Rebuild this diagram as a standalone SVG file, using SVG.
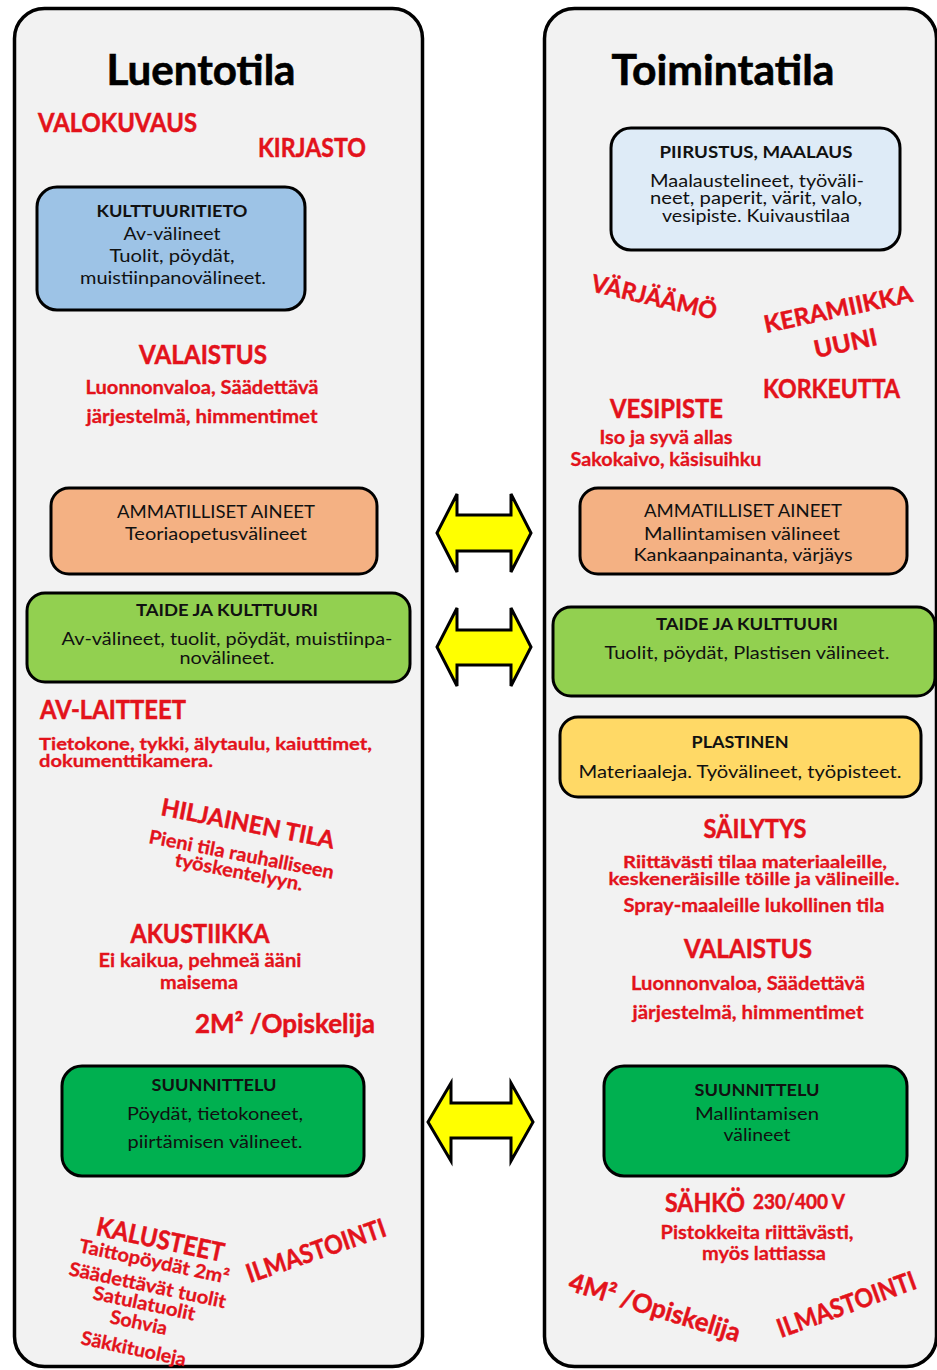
<svg xmlns="http://www.w3.org/2000/svg" width="937" height="1370" viewBox="0 0 937 1370">
<style>
text{font-family:Lato,"Liberation Sans",sans-serif}
.panel{fill:#f2f2f2;stroke:#000;stroke-width:3.5}
.box{stroke:#000;stroke-width:3}
.ttl{font-size:42px;font-weight:bold;fill:#000;text-anchor:middle;stroke:#000;stroke-width:0.6}
.rh{font-size:26px;font-weight:bold;fill:#e3121b;stroke:#e3121b;stroke-width:0.5}
.rs{font-size:19px;font-weight:bold;fill:#e3121b;stroke:#e3121b;stroke-width:0.3}
.tg{font-size:17.5px}
.m{text-anchor:middle}
.bt{font-size:18px;fill:#111}
.bt2{font-size:17px;fill:#111}
.bb{font-size:17.5px;font-weight:bold;fill:#111}
.arr{fill:#ffff00;stroke:#000;stroke-width:3;stroke-linejoin:miter}
</style>
<rect width="937" height="1370" fill="#fff"/>
<g id="panel-luentotila">
<rect class="panel" x="14.5" y="8.5" width="408" height="1358" rx="30"/>
<text class="ttl" x="201" y="85" textLength="189" lengthAdjust="spacingAndGlyphs">Luentotila</text>
</g>
<g id="panel-toimintatila">
<rect class="panel" x="544.5" y="8.5" width="392" height="1358" rx="30"/>
<text class="ttl" x="723" y="85" textLength="223" lengthAdjust="spacingAndGlyphs">Toimintatila</text>
</g>

<g id="connectors">
<polygon class="arr" points="437,533 457,494 457,515 511,515 511,494 531,533 511,572 511,551 457,551 457,572"/>
<polygon class="arr" points="437,647 457,608 457,630 511,630 511,608 531,647 511,686 511,665 457,665 457,686"/>
<polygon class="arr" points="428,1122 451,1083 451,1103 511,1103 511,1083 533,1122 511,1161 511,1138 451,1138 451,1161"/>
</g>

<!-- Left panel -->
<g id="valokuvaus"><text class="rh" x="38" y="132" textLength="159" lengthAdjust="spacingAndGlyphs">VALOKUVAUS</text></g>
<g id="kirjasto"><text class="rh" x="258" y="157" textLength="108" lengthAdjust="spacingAndGlyphs">KIRJASTO</text></g>
<g id="kulttuuritieto">
<rect class="box" x="37" y="187" width="268" height="123" rx="20" fill="#9dc3e6"/>
<text class="bb m" x="172" y="217" textLength="151" lengthAdjust="spacingAndGlyphs">KULTTUURITIETO</text>
<text class="bt m" x="172" y="240" textLength="97" lengthAdjust="spacingAndGlyphs">Av-välineet</text>
<text class="bt m" x="172" y="262" textLength="125" lengthAdjust="spacingAndGlyphs">Tuolit, pöydät,</text>
<text class="bt m" x="173" y="284" textLength="186" lengthAdjust="spacingAndGlyphs">muistiinpanovälineet.</text>
</g>
<g id="valaistus-l">
<text class="rh m" x="203" y="364" textLength="128" lengthAdjust="spacingAndGlyphs">VALAISTUS</text>
<text class="rs m" x="202" y="394" textLength="233" lengthAdjust="spacingAndGlyphs">Luonnonvaloa, Säädettävä</text>
<text class="rs m" x="202" y="423" textLength="231" lengthAdjust="spacingAndGlyphs">järjestelmä, himmentimet</text>
</g>
<g id="ammatilliset-l">
<rect class="box" x="51" y="488" width="326" height="86" rx="18" fill="#f4b183"/>
<text class="bt m" x="216" y="518" textLength="198" lengthAdjust="spacingAndGlyphs">AMMATILLISET AINEET</text>
<text class="bt m" x="216" y="540" textLength="182" lengthAdjust="spacingAndGlyphs">Teoriaopetusvälineet</text>
</g>
<g id="taide-l">
<rect class="box" x="27" y="593" width="383" height="89" rx="18" fill="#92d050"/>
<text class="bb m" x="227" y="616" textLength="182" lengthAdjust="spacingAndGlyphs">TAIDE JA KULTTUURI</text>
<text class="bt m" x="227" y="645" textLength="331" lengthAdjust="spacingAndGlyphs">Av-välineet, tuolit, pöydät, muistiinpa-</text>
<text class="bt m" x="227" y="664" textLength="95" lengthAdjust="spacingAndGlyphs">novälineet.</text>
</g>
<g id="av-laitteet">
<text class="rh" x="40" y="719" textLength="146" lengthAdjust="spacingAndGlyphs">AV-LAITTEET</text>
<text class="rs tg" x="39" y="750" textLength="333" lengthAdjust="spacingAndGlyphs">Tietokone, tykki, älytaulu, kaiuttimet,</text>
<text class="rs tg" x="39" y="767" textLength="174" lengthAdjust="spacingAndGlyphs">dokumenttikamera.</text>
</g>
<g id="hiljainen-tila">
<text class="rh" style="font-size:24px" transform="translate(160,815) rotate(11)" textLength="176" lengthAdjust="spacingAndGlyphs">HILJAINEN TILA</text>
<text class="rs" transform="translate(148,843) rotate(11)" textLength="188" lengthAdjust="spacingAndGlyphs">Pieni tila rauhalliseen</text>
<text class="rs" transform="translate(174,866) rotate(11)" textLength="130" lengthAdjust="spacingAndGlyphs">työskentelyyn.</text>
</g>
<g id="akustiikka">
<text class="rh m" x="200" y="943" textLength="139" lengthAdjust="spacingAndGlyphs">AKUSTIIKKA</text>
<text class="rs m" x="200" y="967" textLength="203" lengthAdjust="spacingAndGlyphs">Ei kaikua, pehmeä ääni</text>
<text class="rs m" x="199" y="989" textLength="78" lengthAdjust="spacingAndGlyphs">maisema</text>
</g>
<g id="tila-l"><text class="rh" x="195" y="1033" textLength="180" lengthAdjust="spacingAndGlyphs">2M² /Opiskelija</text></g>
<g id="suunnittelu-l">
<rect class="box" x="62" y="1066" width="302" height="110" rx="20" fill="#00b050"/>
<text class="bb m" x="214" y="1091" textLength="125" lengthAdjust="spacingAndGlyphs">SUUNNITTELU</text>
<text class="bt m" x="215" y="1120" textLength="176" lengthAdjust="spacingAndGlyphs">Pöydät, tietokoneet,</text>
<text class="bt m" x="215" y="1148" textLength="175" lengthAdjust="spacingAndGlyphs">piirtämisen välineet.</text>
</g>
<g id="kalusteet">
<text class="rh" transform="translate(95,1235) rotate(12)" textLength="130" lengthAdjust="spacingAndGlyphs">KALUSTEET</text>
<text class="rs" transform="translate(78,1252) rotate(12)" textLength="153" lengthAdjust="spacingAndGlyphs">Taittopöydät 2m²</text>
<text class="rs" transform="translate(68,1275) rotate(12)" textLength="160" lengthAdjust="spacingAndGlyphs">Säädettävät tuolit</text>
<text class="rs" transform="translate(92,1299) rotate(12)" textLength="104" lengthAdjust="spacingAndGlyphs">Satulatuolit</text>
<text class="rs" transform="translate(109,1323) rotate(12)" textLength="58" lengthAdjust="spacingAndGlyphs">Sohvia</text>
<text class="rs" transform="translate(80,1344) rotate(12)" textLength="107" lengthAdjust="spacingAndGlyphs">Säkkituoleja</text>
</g>
<g id="ilmastointi-l"><text class="rh" transform="translate(250,1283) rotate(-19)" textLength="146" lengthAdjust="spacingAndGlyphs">ILMASTOINTI</text></g>

<!-- Right panel -->
<g id="piirustus">
<rect class="box" x="611" y="128" width="289" height="122" rx="20" fill="#deebf7"/>
<text class="bb m" x="756" y="158" textLength="193" lengthAdjust="spacingAndGlyphs">PIIRUSTUS, MAALAUS</text>
<text class="bt2 m" x="757" y="187" textLength="214" lengthAdjust="spacingAndGlyphs">Maalaustelineet, työväli-</text>
<text class="bt2 m" x="756" y="204" textLength="212" lengthAdjust="spacingAndGlyphs">neet, paperit, värit, valo,</text>
<text class="bt2 m" x="756" y="222" textLength="188" lengthAdjust="spacingAndGlyphs">vesipiste. Kuivaustilaa</text>
</g>
<g id="varjaamo"><text class="rh" style="font-size:24px" transform="translate(590,291) rotate(13)" textLength="128" lengthAdjust="spacingAndGlyphs">VÄRJÄÄMÖ</text></g>
<g id="keramiikka">
<text class="rh" style="font-size:24px" transform="translate(766,333) rotate(-12)" textLength="151" lengthAdjust="spacingAndGlyphs">KERAMIIKKA</text>
<text class="rh" style="font-size:24px" transform="translate(816,358) rotate(-12)" textLength="64" lengthAdjust="spacingAndGlyphs">UUNI</text>
</g>
<g id="korkeutta"><text class="rh" x="763" y="398" textLength="137" lengthAdjust="spacingAndGlyphs">KORKEUTTA</text></g>
<g id="vesipiste">
<text class="rh" x="610" y="418" textLength="113" lengthAdjust="spacingAndGlyphs">VESIPISTE</text>
<text class="rs m" x="666" y="444" textLength="133" lengthAdjust="spacingAndGlyphs">Iso ja syvä allas</text>
<text class="rs m" x="666" y="466" textLength="191" lengthAdjust="spacingAndGlyphs">Sakokaivo, käsisuihku</text>
</g>
<g id="ammatilliset-r">
<rect class="box" x="580" y="488" width="327" height="86" rx="18" fill="#f4b183"/>
<text class="bt m" x="743" y="517" textLength="198" lengthAdjust="spacingAndGlyphs">AMMATILLISET AINEET</text>
<text class="bt m" x="742" y="540" textLength="196" lengthAdjust="spacingAndGlyphs">Mallintamisen välineet</text>
<text class="bt m" x="743" y="561" textLength="219" lengthAdjust="spacingAndGlyphs">Kankaanpainanta, värjäys</text>
</g>
<g id="taide-r">
<rect class="box" x="553" y="607" width="382" height="89" rx="18" fill="#92d050"/>
<text class="bb m" x="747" y="630" textLength="182" lengthAdjust="spacingAndGlyphs">TAIDE JA KULTTUURI</text>
<text class="bt m" x="747" y="659" textLength="285" lengthAdjust="spacingAndGlyphs">Tuolit, pöydät, Plastisen välineet.</text>
</g>
<g id="plastinen">
<rect class="box" x="560" y="717" width="361" height="80" rx="18" fill="#ffd966"/>
<text class="bb m" x="740" y="748" textLength="97" lengthAdjust="spacingAndGlyphs">PLASTINEN</text>
<text class="bt m" x="740" y="778" textLength="323" lengthAdjust="spacingAndGlyphs">Materiaaleja. Työvälineet, työpisteet.</text>
</g>
<g id="sailytys">
<text class="rh m" x="755" y="838" textLength="103" lengthAdjust="spacingAndGlyphs">SÄILYTYS</text>
<text class="rs tg m" x="755" y="868" textLength="264" lengthAdjust="spacingAndGlyphs">Riittävästi tilaa materiaaleille,</text>
<text class="rs tg m" x="754" y="885" textLength="291" lengthAdjust="spacingAndGlyphs">keskeneräisille töille ja välineille.</text>
<text class="rs m" x="754" y="912" textLength="261" lengthAdjust="spacingAndGlyphs">Spray-maaleille lukollinen tila</text>
</g>
<g id="valaistus-r">
<text class="rh m" x="748" y="958" textLength="128" lengthAdjust="spacingAndGlyphs">VALAISTUS</text>
<text class="rs m" x="748" y="990" textLength="234" lengthAdjust="spacingAndGlyphs">Luonnonvaloa, Säädettävä</text>
<text class="rs m" x="748" y="1019" textLength="231" lengthAdjust="spacingAndGlyphs">järjestelmä, himmentimet</text>
</g>
<g id="suunnittelu-r">
<rect class="box" x="604" y="1066" width="303" height="110" rx="20" fill="#00b050"/>
<text class="bb m" x="757" y="1096" textLength="125" lengthAdjust="spacingAndGlyphs">SUUNNITTELU</text>
<text class="bt m" x="757" y="1120" textLength="124" lengthAdjust="spacingAndGlyphs">Mallintamisen</text>
<text class="bt m" x="757" y="1141" textLength="67" lengthAdjust="spacingAndGlyphs">välineet</text>
</g>
<g id="sahko">
<text class="rh" x="665" y="1212" textLength="80" lengthAdjust="spacingAndGlyphs">SÄHKÖ</text>
<text class="rh" style="font-size:20px" x="753" y="1209" textLength="92" lengthAdjust="spacingAndGlyphs">230/400 V</text>
<text class="rs m" x="757" y="1239" textLength="193" lengthAdjust="spacingAndGlyphs">Pistokkeita riittävästi,</text>
<text class="rs m" x="764" y="1260" textLength="124" lengthAdjust="spacingAndGlyphs">myös lattiassa</text>
</g>
<g id="tila-r"><text class="rh" transform="translate(567,1290) rotate(17)" textLength="178" lengthAdjust="spacingAndGlyphs">4M² /Opiskelija</text></g>
<g id="ilmastointi-r"><text class="rh" transform="translate(781,1338) rotate(-20)" textLength="146" lengthAdjust="spacingAndGlyphs">ILMASTOINTI</text></g>
</svg>
